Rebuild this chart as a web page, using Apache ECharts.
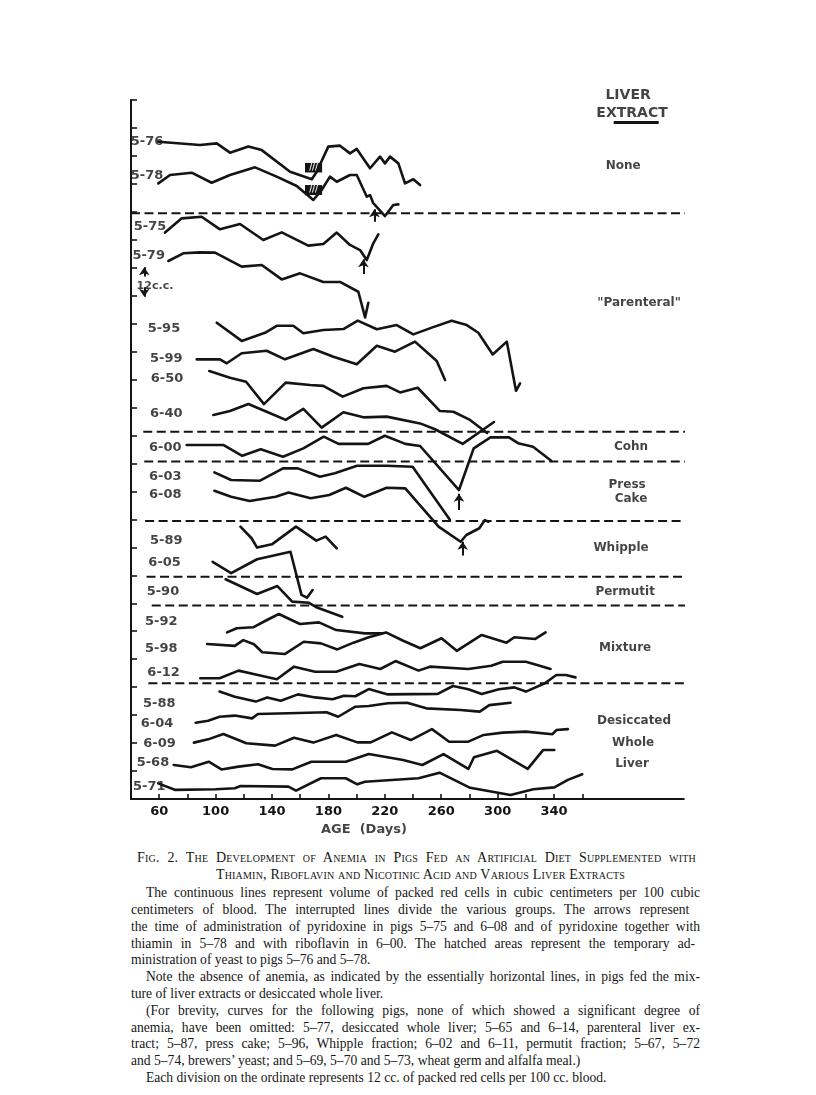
<!DOCTYPE html>
<html><head><meta charset="utf-8">
<script src="https://cdn.jsdelivr.net/npm/echarts@6/dist/echarts.min.js"></script>
<style>
html,body{margin:0;padding:0;background:#fff;}
#chart{position:absolute;left:0;top:0;width:816px;height:850px;}
.cap{position:absolute;font-family:"Liberation Serif","DejaVu Serif",serif;font-size:13.6px;color:#161616;white-space:nowrap;line-height:16px;}
</style></head><body>
<div id="chart"></div>
<script>
// ---------- axis ticks (Age, days) ----------
const xTicks = [60,80,100,120,140,160,180,200,220,240,260,280,300,320,340,360];
const xTickLabels = [60,100,140,180,220,260,300,340];

// ---------- curves: [age in days, ordinate position in cc (1 division = 12 cc)] ----------
const pig_5_76 = [[59.4,282.1],[88.9,280.7],[100.8,281.4],[110.2,277.4],[123.2,280],[132.7,278.5],[152.8,269.2],[168.2,266],[171.7,269.2],[179.9,280],[188.2,280.4],[195.3,277.1],[200.1,279],[209.5,270.7],[216.6,275.7],[220.1,272.8],[223.7,275.7],[229.6,272.8],[234.3,264.2],[240.2,266],[245,263.5]];
const pig_5_78 = [[59.4,264.2],[67.7,267.8],[83,268.8],[97.2,264.5],[110.2,267.8],[128,271.1],[143.3,267.1],[157.5,263.1],[169.3,257.1],[175.2,261.4],[181.1,267.1],[185.9,264.9],[195.3,267.8],[200.1,267.8],[207.2,258.5],[209.5,259.2],[211.8,255.7],[220.1,250.2],[226,254.9],[229.6,255.2]];
const pig_5_75 = [[64.1,243.1],[76,249.2],[90.1,249.9],[103.1,244.5],[117.3,246.8],[133.8,239.9],[146.9,243.2],[165.7,237.5],[176.4,238.2],[185.9,243.1],[195.3,237.8],[202.4,235.6],[207.2,231.3],[211.8,238.5],[215.4,242.3]];
const pig_5_79 = [[66.5,230.9],[77.1,234.2],[88.9,234.6],[99.6,234.5],[118.5,228.5],[132.7,229.2],[146.9,223],[159.9,225.6],[176.4,221.9],[188.2,221.9],[201.2,217.7],[206,206.7],[208.3,213]];
const pig_5_95 = [[100.8,204.4],[118.5,196.6],[135,200.1],[143.3,203.1],[155.1,203.1],[162.2,199.9],[176.4,201.3],[190.6,201.7],[200.8,205.3],[214.3,201.6],[228.4,203.4],[240.2,199.4],[253.3,202.3],[267.4,205.3],[278.1,203.4],[286.3,200.1],[296.5,190.8],[306.5,196.3],[313,175.2],[315.9,178.4]];
const pig_5_99 = [[86.6,188.7],[103.1,188.7],[107.9,187],[118.5,191.3],[136.2,192.4],[149.2,188.7],[169.3,193.1],[183.5,189.8],[200.1,186.6],[214.3,194.5],[227.2,192],[241.4,196.3],[256.8,188],[262.7,179.8]];
const pig_6_50 = [[95.5,183.7],[110.2,180.8],[121.6,179.1],[134.3,169.5],[149.7,178.7],[167,177.7],[176.4,177.3],[190.1,172.7],[204.8,176.3],[221.3,177.3],[230.8,174.5],[243.3,176.5],[259.1,166.5],[268.6,166.2],[280.4,162.7],[292.5,157.1]];
const pig_6_40 = [[98.4,164.8],[110.2,166.5],[123.2,169.5],[136.2,166.2],[149.7,162.7],[162.2,167.4],[175.2,159.4],[190.6,166],[204.8,163.8],[221.3,164.1],[245,161.2],[255.6,158.7],[275.2,152.4],[297.4,161.8]];
const pig_6_00 = [[79.5,151.9],[105.7,151.9],[118.9,147.3],[132,150.1],[147.8,146.9],[162.2,150.5],[176.7,155.5],[187.2,152.4],[208.2,152.4],[220,155.9],[234.5,152.4],[245,151.5],[272.6,132.6],[283,150.5],[294.9,155.2],[308,155.2],[314.5,152.7],[325.1,151.2],[338.2,145.1]];
const pig_6_03 = [[99.1,140.2],[111,136.9],[131.5,136.6],[147.8,141.9],[158.3,141.9],[174,138.3],[184.5,139.8],[200.3,143],[221.3,143],[239.7,142.6],[266,120]];
const pig_6_08 = [[99.1,132.3],[111,129.7],[124.1,127.9],[142.6,129.7],[151.7,131.5],[167.4,129.1],[180.6,130.5],[192.4,133.6],[205.5,129.7],[221.3,133.6],[234.5,133.3],[258.1,116.9],[273.8,110.4],[277.8,113.3],[287,116.2],[290.9,119.7],[293.5,119]];
const pig_5_89 = [[117.6,116.9],[125.5,111.9],[129.4,107.9],[139.9,109.3],[157,116.9],[171.4,110.9],[178,112.6],[185.9,107.6]];
const pig_6_05 = [[97.9,101.8],[111,96.9],[129.4,102.9],[153.1,106.1],[160.9,87.6],[164.8,86.4],[168.8,89.7]];
const pig_5_90 = [[107.1,94.3],[129.4,88],[143.8,91.4],[154.3,84.7],[166.2,84.2],[171.4,82.3],[189.8,78.2]];
const pig_5_92 = [[108.1,71.5],[115,73.3],[126.6,73.7],[135.4,76.5],[144.8,79.4],[159.8,75.1],[173.3,75.8],[185.5,72.5],[205.9,71.1],[218.1,71.1]];
const pig_5_98 = [[94,66.5],[113.6,65.7],[119.6,68.2],[127.2,66.4],[133.1,63],[149,62.2],[162.5,67.5],[174.7,66.8],[186.3,64.2],[197.8,67.1],[208.6,69.4],[220.8,71.5],[233,67.9],[245.2,64.7],[260.2,69],[271,63.6],[288.7,70.4],[306.3,67.1],[311.8,69.4],[326.7,68.7],[334,71.5]];
const pig_6_12 = [[89.1,51.8],[102.8,51.8],[116.3,55.1],[130,53.2],[143.4,51.4],[155.6,56.8],[170.6,54.6],[185.5,54.6],[201.9,57.9],[216.8,55.8],[227.6,59.2],[243.9,55.1],[252,56.8],[279.2,55.8],[295.5,57.2],[303.6,58.9],[320,58.9],[328,57.5],[337.5,55.8]];
const pig_5_88 = [[102.8,46.1],[113.6,43.9],[128.5,41.8],[136.6,43.6],[146.2,42.2],[158.4,44.9],[170.6,43.6],[182.9,42.8],[191,44.3],[199.1,44.1],[208.6,47.2],[222.2,44.9],[257.5,45.1],[268.3,48.5],[279.2,47.1],[288.7,45.1],[300.9,47.1],[311.8,47.9],[320,46.1],[333.5,49.7],[341.6,53.2],[348.4,53.2],[355.2,52.2]];
const pig_6_04 = [[85.9,32.7],[94.7,33.6],[102.8,35.3],[113.6,35.8],[125.8,34.6],[130,36.5],[151.6,36.8],[178.7,37.2],[186.9,35.3],[199.1,39.6],[208.6,39.9],[222.2,41.1],[235.8,41.3],[249.4,38.9],[273.7,38.2],[287.3,37.5],[294.1,40.3],[309.1,41.3]];
const pig_6_09 = [[84.6,24.2],[94.7,25.6],[105.5,27.9],[121.8,23.9],[142.2,22.9],[155.6,26.3],[169.3,24.2],[185.5,27.5],[200.5,24.3],[210,24.3],[225,28.6],[238.4,25.3],[253.4,30],[265.6,24.6],[279.2,24.6],[290.1,27.5],[303.6,28.5],[320,28.9],[338.9,27.8],[341.6,29.6],[349.8,30]];
const pig_5_68 = [[70.3,14.6],[82.5,13.6],[95.1,16],[104.1,12.7],[116.3,13.9],[130,14.9],[140.3,12.9],[154.4,12.7],[167.9,16],[192.3,16],[208.6,19.3],[233,16.7],[246.6,14.6],[261.6,19.3],[279.2,12.9],[283.2,17.9],[299.5,20.7],[321.3,12.9],[332.2,21],[340.2,21]];
const pig_5_71 = [[59.3,6.7],[71.5,3.9],[100.1,4.2],[113.6,4.6],[117.7,5.6],[151.6,5.3],[157,3.6],[174.7,8.9],[192.3,8.9],[200.5,6.3],[205.9,7.4],[243.9,8.9],[258.8,11.3],[280.5,4.8],[309.1,1.7],[325.3,4.2],[340.2,5],[349.8,8.2],[360,10.6]];

// group dividers (interrupted lines): ordinate level, first and last age
const dividerLevels = [251.4,157.6,144.8,119.3,95.4,83,49.7];
const dividerStart  = [40,48.7,49.4,50,51,54.7,52.3];
const dividerEnd    = [437,437,437,437,437,437,437];

// arrows (pyridoxine etc.): pig, age, tail level, head level
const arrows = [['5-78',212.6,247.8,253.1],['5-75',204.8,225.3,231.6],['6-00',272.6,124,131],['6-08',275.2,104.5,110.4]];
// hatched areas (yeast): pig, age from, age to, level low, level high
const hatched = [['5-76',163.4,175.5,268.9,273],['5-78',163.4,175.5,259.2,263.5]];

// pig names and their label anchor (age, level)
const pigNames = ['5-76','5-78','5-75','5-79','5-95','5-99','6-50','6-40','6-00','6-03','6-08','5-89','6-05','5-90','5-92','5-98','6-12','5-88','6-04','6-09','5-68','5-71'];
const pigLabelAge = [39.8,39.8,42,41,51.8,53.5,54,53.5,52.8,52.8,52.8,53.5,52.3,51.1,49.9,49.9,51.6,48.5,46.9,48.7,44,41.4];
const pigLabelLevel = [282,267.4,245.6,233.2,202,189,180.4,165.5,150.9,138.3,130.8,110.9,101.6,89,76.1,64.7,54.4,41.1,32.5,23.9,15.6,5.3];

// group names (liver extract) and anchors
const groupNames = ['LIVER','EXTRACT','None','"Parenteral"','Cohn','Press','Cake','Whipple','Permutit','Mixture','Desiccated','Whole','Liver'];
const groupAge   = [392.5,395.3,389,400.3,394.6,391.8,394.6,387.5,390.4,390.4,396.7,396,395.3];
const groupLevel = [302.1,294.4,271.7,212.9,151.1,134.8,128.8,107.7,88.8,64.8,33.5,24,15];

const curves = [pig_5_76,pig_5_78,pig_5_75,pig_5_79,pig_5_95,pig_5_99,pig_6_50,pig_6_40,pig_6_00,pig_6_03,pig_6_08,pig_5_89,pig_6_05,pig_5_90,pig_5_92,pig_5_98,pig_6_12,pig_5_88,pig_6_04,pig_6_09,pig_5_68,pig_5_71];

const INK = '#141414';
const chart = echarts.init(document.getElementById('chart'), null, {renderer:'canvas'});
const series = [];
curves.forEach((d,i)=>{
  const s = {type:'line', name:pigNames[i], data:d, showSymbol:false, symbol:'none', smooth:false,
    lineStyle:{color:INK, width:2.6, cap:'round', join:'round'}, silent:true, z:3};
  const h = hatched.filter(r=>r[0]===pigNames[i]);
  if(h.length){
    s.markArea = {silent:true, itemStyle:{color:INK},
      label:{show:true, position:'inside', formatter:'///', color:'#fff', fontSize:8, fontWeight:'bold', fontFamily:'DejaVu Sans'},
      data:h.map(r=>[{coord:[r[1],r[3]]},{coord:[r[2],r[4]]}])};
  }
  series.push(s);
});
dividerLevels.forEach((lv,i)=>{
  series.push({type:'line', data:[[dividerStart[i],lv],[dividerEnd[i],lv]], clip:false, symbol:'none', silent:true,
    lineStyle:{color:INK, width:2, type:[9,4.5]}, z:2});
});
// arrows
series.push({type:'line', data:[], clip:false, silent:true,
  markLine:{silent:true, symbol:['none','arrow'], symbolSize:8, label:{show:false}, animation:false,
    lineStyle:{color:INK, width:2, type:'solid'},
    data: arrows.map(a=>[{coord:[a[1],a[2]]},{coord:[a[1],a[3]]}])
      .concat([[{coord:[49.4,224.2]},{coord:[49.4,228.2]}],[{coord:[49.4,219.6]},{coord:[49.4,215.6]}]])
  }});
// underline of EXTRACT
series.push({type:'line', data:[], clip:false, silent:true,
  markLine:{silent:true, symbol:['none','none'], label:{show:false}, animation:false,
    lineStyle:{color:INK, width:3, type:'solid'},
    data:[[{coord:[382.3,290.6]},{coord:[414.2,290.6]}]]}});
// pig labels
series.push({type:'scatter', symbolSize:0, clip:false, silent:true, z:5,
  data: pigNames.map((n,i)=>({value:[pigLabelAge[i],pigLabelLevel[i]], name:n})),
  label:{show:true, position:[0,0], align:'left', verticalAlign:'middle', formatter:p=>p.name,
    fontFamily:'DejaVu Sans', fontWeight:'bold', fontSize:13, color:INK}});
// group labels
series.push({type:'scatter', symbolSize:0, clip:false, silent:true, z:5,
  data: groupNames.map((n,i)=>({value:[groupAge[i],groupLevel[i]], name:n, label: i<2?{fontSize:14}:{}})),
  label:{show:true, position:[0,0], align:'center', verticalAlign:'middle', formatter:p=>p.name,
    fontFamily:'DejaVu Sans', fontWeight:'bold', fontSize:12, color:INK}});
// scale note and axis title
series.push({type:'scatter', symbolSize:0, clip:false, silent:true, z:5,
  data:[{value:[57,220.2], name:'12c.c.', label:{fontSize:11}},{value:[205.2,-13.3], name:'AGE  (Days)', label:{fontSize:13}}],
  label:{show:true, position:[0,0], align:'center', verticalAlign:'middle', formatter:p=>p.name,
    fontFamily:'DejaVu Sans', fontWeight:'bold', fontSize:12, color:INK}});

chart.setOption({
  animation:false,
  backgroundColor:'#fff',
  grid:{left:131, top:100, width:552.8, height:699, containLabel:false},
  xAxis:{type:'value', min:40, max:432,
    axisLine:{show:true, onZero:false, lineStyle:{color:INK, width:2}},
    axisTick:{show:true, inside:true, length:5, customValues:xTicks, lineStyle:{color:INK, width:1.6}},
    axisLabel:{show:true, customValues:xTickLabels, margin:6, fontFamily:'DejaVu Sans', fontWeight:'bold', fontSize:13, color:INK},
    splitLine:{show:false}},
  yAxis:{type:'value', min:0, max:300, interval:12,
    axisLine:{show:true, onZero:false, lineStyle:{color:INK, width:2}},
    axisTick:{show:true, inside:true, length:6, lineStyle:{color:INK, width:1.6}},
    axisLabel:{show:false}, splitLine:{show:false}},
  series: series
});

// ---------- caption (real text) ----------
const capText = [
 'Fig. 2.  The Development of Anemia in Pigs Fed an Artificial Diet Supplemented with',
 'Thiamin, Riboflavin and Nicotinic Acid and Various Liver Extracts',
 'The continuous lines represent volume of packed red cells in cubic centimeters per 100 cubic',
 'centimeters of blood.  The interrupted lines divide the various groups.  The arrows represent',
 'the time of administration of pyridoxine in pigs 5–75 and 6–08 and of pyridoxine together with',
 'thiamin in 5–78 and with riboflavin in 6–00.  The hatched areas represent the temporary ad-',
 'ministration of yeast to pigs 5–76 and 5–78.',
 'Note the absence of anemia, as indicated by the essentially horizontal lines, in pigs fed the mix-',
 'ture of liver extracts or desiccated whole liver.',
 '(For brevity, curves for the following pigs, none of which showed a significant degree of',
 'anemia, have been omitted: 5–77, desiccated whole liver; 5–65 and 6–14, parenteral liver ex-',
 'tract; 5–87, press cake; 5–96, Whipple fraction; 6–02 and 6–11, permutit fraction; 5–67, 5–72',
 'and 5–74, brewers\u2019 yeast; and 5–69, 5–70 and 5–73, wheat germ and alfalfa meal.)',
 'Each division on the ordinate represents 12 cc. of packed red cells per 100 cc. blood.'
];
const capY    = [858,875,893,910,927,944,960,977,994,1011,1028,1044,1061,1078];
const capX0   = [137,0,146,131,131,131,131,146,131,146,131,131,131,146];
const capX1   = [700,0,700,700,700,700,0,700,0,700,700,700,0,0];
const capMode = ['j','c','j','j','j','j','l','j','l','j','j','j','l','l'];
capText.forEach((t,i)=>{
  const d = document.createElement('div');
  d.className = 'cap';
  d.textContent = t;
  if(i<2){ d.style.fontVariant='small-caps'; d.style.fontSize='14px'; d.style.letterSpacing='0.2px'; }
  d.style.top = (capY[i]-8)+'px';
  document.body.appendChild(d);
  const w = d.getBoundingClientRect().width;
  if(capMode[i]==='c'){ d.style.left = (420.5 - w/2)+'px'; }
  else { d.style.left = capX0[i]+'px'; }
  if(capMode[i]==='j'){
    const n = (t.match(/ /g)||[]).length;
    const ws = (capX1[i]-capX0[i]-w)/n;
    d.style.wordSpacing = ws+'px';
  }
});
</script>
</body></html>
